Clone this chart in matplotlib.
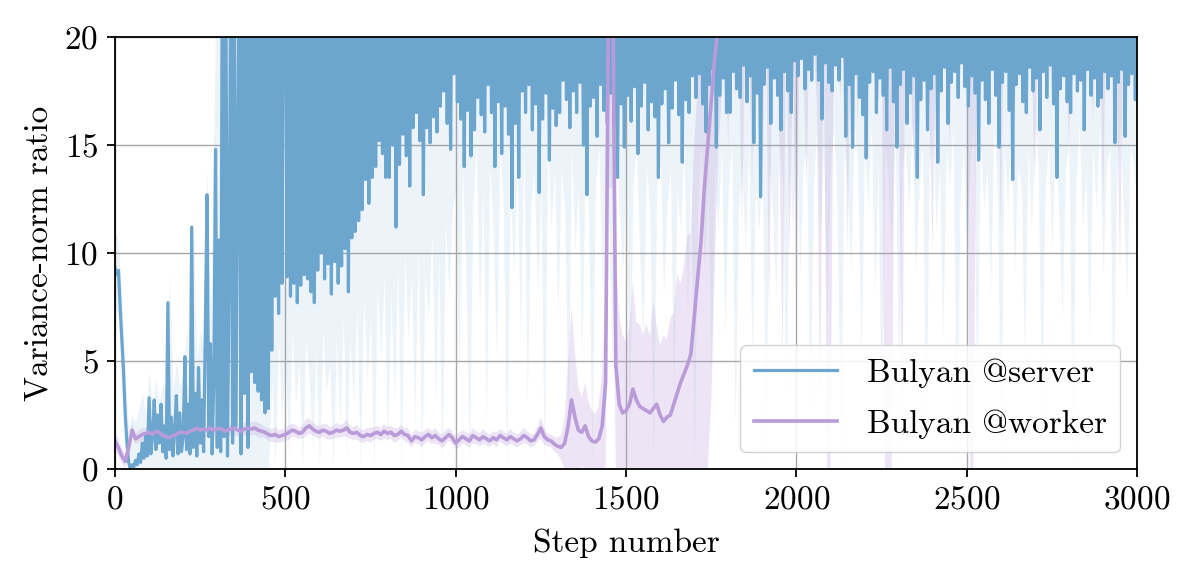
import numpy as np
import matplotlib
matplotlib.use("Agg")
from matplotlib import pyplot as plt

# Fonts (Computer Modern look)
plt.rcParams['font.family'] = 'cmr10'
plt.rcParams['mathtext.fontset'] = 'cm'
plt.rcParams['axes.formatter.use_mathtext'] = True

# Step grids
server_steps = np.arange(0, 3001, 5)
band_steps = np.arange(0, 3001, 10)

# Bulyan @server: variance-norm ratio (values above 20 are off the chart, read as 25)
server_ratio = [
    9.3, 9.0, 9.2, 7.5, 6.0, 4.5, 2.5, 1.2, 0.3, 0.0, 0.2, 0.1, 0.4, 0.2, 0.7, 0.3, 1.2, 0.5, 1.6, 0.6,
    3.3, 0.7, 1.5, 3.2, 0.9, 2.5, 1.2, 3.0, 0.8, 2.0, 0.5, 7.7, 0.9, 2.4, 0.6, 1.8, 3.4, 0.7, 2.6, 0.8,
    1.5, 5.2, 0.9, 3.0, 0.7, 11.2, 1.0, 3.5, 0.6, 4.7, 1.2, 3.2, 0.8, 6.5, 12.7, 1.5, 5.8, 0.7, 4.2, 14.8,
    1.0, 10.6, 0.8, 25, 1.5, 25, 0.6, 9.5, 25, 1.2, 25, 2.0, 13.2, 25, 0.7, 25, 3.5, 25, 1.0, 25,
    4.5, 25, 4.0, 25, 3.6, 25, 3.2, 25, 2.6, 25, 2.8, 25, 5.5, 25, 8.0, 25, 7.2, 25, 8.6, 25,
    25, 8.9, 25, 8.0, 25, 8.6, 25, 7.7, 25, 8.5, 25, 9.0, 25, 8.8, 25, 8.2, 25, 7.7, 25, 9.2,
    25, 10.0, 25, 8.8, 25, 9.5, 25, 8.1, 25, 9.6, 25, 8.6, 25, 9.4, 25, 10.2, 25, 8.2, 25, 10.7,
    25, 11.0, 25, 11.5, 25, 12.0, 25, 13.4, 25, 12.3, 25, 13.5, 25, 14.0, 25, 15.2, 25, 14.6, 25, 13.5,
    25, 13.5, 25, 15.0, 25, 11.2, 25, 14.1, 25, 15.5, 25, 14.5, 25, 13.1, 25, 15.8, 25, 16.5, 25, 15.2,
    25, 12.7, 25, 15.8, 25, 15.1, 25, 16.3, 25, 15.6, 25, 16.8, 25, 17.5, 25, 16.0, 25, 14.8, 25, 18.3,
    25, 17.0, 25, 16.2, 25, 14.0, 25, 16.6, 25, 14.5, 25, 15.7, 25, 17.2, 25, 16.4, 25, 15.6, 25, 17.8,
    25, 16.5, 25, 14.0, 25, 17.0, 25, 14.6, 25, 16.8, 25, 15.5, 25, 12.1, 25, 16.0, 25, 13.5, 25, 17.5,
    25, 16.5, 25, 17.8, 25, 15.7, 25, 16.9, 25, 12.8, 25, 16.2, 25, 17.4, 25, 14.3, 25, 16.7, 25, 15.9,
    25, 16.5, 25, 18.0, 25, 17.1, 25, 15.8, 25, 17.5, 25, 16.5, 25, 17.9, 25, 15.0, 25, 12.7, 25, 16.8,
    25, 17.2, 25, 15.4, 25, 17.8, 25, 16.6, 25, 16.0, 25, 17.4, 25, 15.9, 25, 13.5, 25, 16.9, 25, 14.9,
    25, 17.3, 25, 16.1, 25, 17.7, 25, 14.6, 25, 16.8, 25, 17.9, 25, 15.7, 25, 17.0, 25, 16.3, 25, 13.5,
    25, 16.9, 25, 17.6, 25, 15.1, 25, 16.7, 25, 18.0, 25, 16.4, 25, 14.2, 25, 17.1, 25, 16.5, 25, 18.2,
    25, 17.2, 25, 18.3, 25, 16.9, 25, 15.6, 25, 17.8, 25, 18.5, 25, 14.9, 25, 17.3, 25, 18.1, 25, 16.5,
    25, 16.5, 25, 18.4, 25, 17.6, 25, 17.2, 25, 18.7, 25, 17.0, 25, 18.2, 25, 15.1, 25, 17.4, 25, 12.6,
    25, 17.8, 25, 18.6, 25, 16.0, 25, 18.1, 25, 17.3, 25, 15.7, 25, 18.4, 25, 17.5, 25, 16.5, 25, 18.9,
    25, 18.2, 25, 19.0, 25, 17.6, 25, 18.5, 25, 18.0, 25, 19.2, 25, 18.0, 25, 16.2, 25, 18.8, 25, 17.9,
    25, 17.5, 25, 18.7, 25, 18.0, 25, 19.1, 25, 15.4, 25, 17.8, 25, 14.9, 25, 18.3, 25, 17.2, 25, 16.4,
    25, 14.4, 25, 17.9, 25, 18.4, 25, 16.5, 25, 18.1, 25, 17.3, 25, 15.7, 25, 18.6, 25, 17.0, 25, 14.9,
    25, 17.8, 25, 18.5, 25, 16.0, 25, 17.4, 25, 18.2, 25, 13.5, 25, 17.1, 25, 18.0, 25, 15.7, 25, 17.6,
    25, 18.3, 25, 14.2, 25, 17.5, 25, 18.6, 25, 16.0, 25, 17.9, 25, 18.4, 25, 17.2, 25, 18.8, 25, 17.7,
    25, 16.8, 25, 18.2, 25, 17.4, 25, 14.3, 25, 18.0, 25, 17.1, 25, 16.0, 25, 18.5, 25, 17.3, 25, 14.9,
    25, 17.9, 25, 18.4, 25, 16.6, 25, 13.4, 25, 17.8, 25, 18.3, 25, 17.0, 25, 16.5, 25, 18.6, 25, 17.5,
    25, 18.1, 25, 15.7, 25, 18.4, 25, 17.2, 25, 18.7, 25, 16.9, 25, 13.5, 25, 17.6, 25, 18.2, 25, 17.0,
    25, 16.5, 25, 18.3, 25, 17.5, 25, 18.0, 25, 15.7, 25, 18.5, 25, 17.3, 25, 18.1, 25, 16.8, 25, 17.2,
    25, 18.4, 25, 17.6, 25, 18.2, 25, 15.1, 25, 17.9, 25, 18.5, 25, 15.4, 25, 17.8, 25, 18.3, 25, 17.1,
    25,
]

# Bulyan @server: spread band (step 10)
server_hi = [
    11.0, 10.5, 8.0, 4.0, 2.0, 2.5, 2.2, 2.8, 3.5, 2.6,
    4.5, 3.0, 4.2, 3.2, 4.0, 3.5, 9.0, 3.6, 5.0, 3.8,
    4.5, 6.5, 4.0, 12.0, 5.0, 6.5, 5.5, 14.0, 7.0, 16.0,
] + [25.0] * 271
server_lo = [7.5, 7.0, 3.5, 0.5] + [0.0] * 42 + [
    4.0, 0.0, 6.0, 2.0,
    5.5, 0.5, 6.5, 3.0, 5.0, 0.0, 6.0, 4.0, 1.0, 5.5,
    0.0, 6.5, 3.5, 5.0, 0.0, 6.0, 2.0, 7.0, 0.5, 6.0,
    3.0, 7.5, 0.0, 8.0, 4.0, 7.0, 0.0, 8.5, 5.0, 9.0,
    1.0, 8.0, 3.0, 9.5, 0.0, 10.0, 6.0, 9.0, 2.0, 10.5,
    0.0, 9.0, 7.0, 11.0, 3.0, 10.0, 0.0, 11.5, 8.0, 12.0,
    13, 4, 14, 9, 0, 12, 15, 7, 13, 2,
    14, 11, 5, 15, 12, 0, 13, 9, 14, 6,
    15, 3, 12, 14, 8, 13, 0, 15, 11, 14,
    7, 14, 12, 2, 15, 10, 13, 5, 14, 12,
    0, 13, 15, 8, 14, 11, 4, 15, 12, 9,
    14, 1, 13, 15, 10, 6, 14, 12, 0, 13,
    15, 8, 12, 14, 3, 13, 11, 15, 7, 14,
    0, 12, 15, 9, 13, 4, 14, 11, 15, 6,
    13, 15, 2, 12, 14, 10, 15, 5, 13, 11,
    15, 0, 14, 12, 8, 15, 13, 3, 14, 11,
    16, 9, 14, 15, 2, 13, 16, 11, 15, 7,
    14, 16, 12, 0, 15, 13, 9, 16, 14, 5,
    15, 12, 16, 8, 14, 0, 15, 13, 10, 16,
    4, 14, 15, 12, 16, 9, 13, 15, 1, 14,
    16, 11, 14, 6, 15, 13, 16, 0, 12, 15,
    10, 14, 16, 3, 15, 12, 14, 8, 16, 13,
    0, 15, 12, 16, 9, 14, 13, 5, 15, 11,
    16, 14, 2, 13, 15, 10, 16, 12, 7, 14,
    15, 0, 13, 16, 11, 14, 6, 15, 12, 16,
    9, 14, 15, 3, 13, 16, 12, 8, 15, 14,
    12,
]

# Bulyan @worker: variance-norm ratio (step 10)
worker_ratio = [
    1.3, 1.0, 0.6, 0.35, 1.0, 1.8, 1.4, 1.5, 1.6, 1.65,
    1.7, 1.6, 1.75, 1.7, 1.55, 1.5, 1.45, 1.55, 1.6, 1.7,
    1.7, 1.65, 1.75, 1.8, 1.9, 1.8, 1.85, 1.8, 1.9, 1.8,
    1.85, 1.9, 1.75, 1.8, 1.85, 1.9, 1.8, 1.75, 1.85, 1.9,
    1.85, 1.9, 1.8, 1.75, 1.7, 1.6, 1.55, 1.6, 1.5, 1.55,
    1.6, 1.7, 1.8, 1.75, 1.65, 1.7, 1.9, 2.0, 1.85, 1.75,
    1.7, 1.8, 1.75, 1.65, 1.7, 1.8, 1.75, 1.8, 1.9, 1.7,
    1.65, 1.7, 1.55, 1.5, 1.6, 1.55, 1.65, 1.7, 1.6, 1.75,
    1.65, 1.7, 1.55, 1.6, 1.75, 1.6, 1.55, 1.3, 1.5, 1.45,
    1.35, 1.5, 1.6, 1.45, 1.55, 1.4, 1.3, 1.45, 1.6, 1.45,
    1.2, 1.35, 1.5, 1.4, 1.3, 1.55, 1.45, 1.35, 1.5, 1.4,
    1.3, 1.45, 1.35, 1.55, 1.45, 1.35, 1.5, 1.4, 1.3, 1.4,
    1.55, 1.45, 1.3, 1.35, 1.6, 1.9, 1.5, 1.35, 1.3, 1.15,
    1.05, 1.0, 1.2, 2.0, 3.2, 2.4, 1.8, 1.7, 2.0, 1.5,
    1.3, 1.25, 1.4, 2.0, 4.0, 25, 25, 4.8, 3.0, 2.6,
    2.7, 3.0, 3.7, 3.2, 2.9, 2.8, 2.7, 2.6, 2.8, 3.0,
    2.5, 2.2, 2.4, 2.5, 3.0, 3.5, 4.0, 4.4, 4.8, 5.3,
    7.0, 8.8, 10.5, 13.0, 15.0, 17.0, 19.0, 20.5, 25, 25,
] + [25.0] * 121

# Bulyan @worker: half-width of the spread band (step 10)
worker_spread = [
    0.4, 0.4, 0.35, 0.3, 0.3, 0.3, 0.25, 0.3, 0.3, 0.25,
    0.3, 0.25, 0.3, 0.35, 0.3, 0.25, 0.3, 0.3, 0.35, 0.3,
    0.3, 0.35, 0.3, 0.25, 0.3, 0.35, 0.3, 0.3, 0.25, 0.3,
    0.35, 0.3, 0.3, 0.25, 0.3, 0.35, 0.3, 0.3, 0.3, 0.35,
    0.3, 0.3, 0.35, 0.3, 0.25, 0.3, 0.3, 0.35, 0.3, 0.3,
    0.3, 0.35, 0.3, 0.3, 0.25, 0.3, 0.4, 0.35, 0.3, 0.3,
    0.3, 0.3, 0.35, 0.3, 0.3, 0.35, 0.3, 0.3, 0.4, 0.3,
    0.3, 0.35, 0.3, 0.3, 0.3, 0.35, 0.3, 0.3, 0.3, 0.35,
    0.3, 0.3, 0.35, 0.3, 0.3, 0.3, 0.35, 0.3, 0.3, 0.3,
    0.35, 0.3, 0.3, 0.3, 0.35, 0.3, 0.3, 0.35, 0.3, 0.3,
    0.3, 0.35, 0.3, 0.3, 0.3, 0.35, 0.3, 0.3, 0.35, 0.3,
    0.3, 0.3, 0.35, 0.3, 0.3, 0.3, 0.35, 0.3, 0.3, 0.3,
    0.35, 0.3, 0.3, 0.3, 0.35, 0.5, 0.4, 0.3, 0.3, 0.35,
    0.4, 0.6, 1.2, 3.0, 4.3, 3.0, 2.0, 1.6, 2.0, 1.6,
    1.4, 1.3, 1.6, 2.5, 5.0, 12, 12, 5.0, 4.2, 3.6,
    3.2, 3.6, 5.0, 3.6, 3.8, 3.4, 4.0, 3.6, 5.0, 3.6,
    3.2, 4.0, 3.6, 4.5, 4.2, 5.5, 4.6, 5.0, 6.0, 5.6,
    8.0, 9.0, 10.5, 13.0, 15.0, 14.0, 10.0, 6.0, 8.0, 5.0,
    10, 4, 8, 3, 14, 5, 4, 12, 3, 6,
    12, 3, 18, 5, 4, 10, 20, 4, 15, 6,
    18, 4, 6, 12, 3, 5, 8, 22, 4, 25,
    25, 5, 4, 8, 3, 15, 5, 4, 9, 3,
    10, 4, 6, 3, 8, 5, 25, 25, 25, 4,
    6, 25, 4, 3, 9, 12, 4, 5, 3, 8,
    15, 4, 3, 6, 5, 10, 4, 3, 7, 4,
    5, 25, 25, 4, 6, 3, 8, 4, 5, 3,
    14, 4, 3, 5, 9, 4, 3, 6, 4, 5,
    12, 3, 5, 4, 8, 3, 6, 4, 3, 5,
    10, 4, 3, 6, 4, 5, 3, 9, 4, 3,
    13, 4, 5, 3, 6, 16, 4, 3, 5, 4,
    4,
]

series_labels = ["Bulyan @server", "Bulyan @worker"]
x_ticks = [0, 500, 1000, 1500, 2000, 2500, 3000]
y_ticks = [0, 5, 10, 15, 20]

SERVER_COLOR = '#6ca6cf'
WORKER_COLOR = '#b99bd9'

worker = np.array(worker_ratio)
spread = np.array(worker_spread)
worker_lo = np.clip(worker - spread, 0, None)
worker_hi = worker + spread

fig = plt.figure(figsize=(11.96, 5.83), dpi=100)
ax = fig.add_axes([0.0962, 0.1955, 0.8545, 0.741])

ax.fill_between(band_steps, server_lo, server_hi, color=SERVER_COLOR, alpha=0.12,
                linewidth=0, zorder=1)
ax.fill_between(band_steps, worker_lo, worker_hi, color=WORKER_COLOR, alpha=0.25,
                linewidth=0, zorder=2)
ax.plot(server_steps, server_ratio, color=SERVER_COLOR, lw=2.3, zorder=3,
        label=series_labels[0])
ax.plot(band_steps, worker, color=WORKER_COLOR, lw=2.6, zorder=4,
        label=series_labels[1])

ax.set_xlim(0, 3000)
ax.set_ylim(0, 20)
ax.set_xticks(x_ticks)
ax.set_yticks(y_ticks)
ax.grid(True, color='#a8a8a8', lw=1.0, zorder=0)
ax.set_axisbelow(True)

ax.tick_params(labelsize=24, length=6, width=1.3, pad=6)
for s in ax.spines.values():
    s.set_linewidth(1.3)
    s.set_zorder(5)

ax.set_xlabel("Step number", fontsize=24, labelpad=10)
ax.set_ylabel("Variance-norm ratio", fontsize=24, labelpad=8)

leg = ax.legend(loc='lower right', fontsize=24, handlelength=2.5, labelspacing=0.65,
                handletextpad=0.9, framealpha=0.85, edgecolor='#cccccc',
                borderaxespad=0.5)
leg.get_frame().set_linewidth(1.0)
leg.set_zorder(6)

fig.savefig("out.png", dpi=100)
